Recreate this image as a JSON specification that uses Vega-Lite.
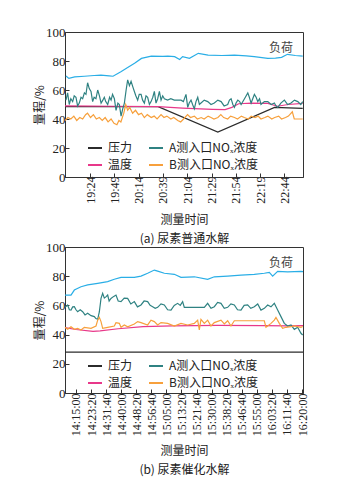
{
"$schema": "https://vega.github.io/schema/vega-lite/v6.json",
"background": "white",
"padding": {"left": 32, "top": 25, "right": 5, "bottom": 5},
"bounds": "flush",
"spacing": 70,
"config": {
  "view": {"stroke": "#333", "strokeWidth": 1},
  "axis": {"grid": false, "domainColor": "#333", "tickColor": "#333", "labelColor": "#222", "labelFont": "Liberation Serif, Times New Roman, serif", "labelFontSize": 13, "labelOverlap": false, "labelBound": false, "labelFlush": false, "titleFont": "Noto Sans CJK SC", "titleFontSize": 12, "titleFontWeight": "normal", "titleColor": "#222", "tickSize": -4, "labelPadding": 4, "tickCount": 30},
  "legend": {"symbolType": "stroke", "symbolSize": 196, "symbolStrokeWidth": 2, "labelFont": "Noto Sans CJK SC", "labelFontSize": 12, "labelColor": "#222", "columnPadding": 12, "rowPadding": 3, "labelOffset": 5}
},
"datasets": {
"a": [
{"s":"负荷","t":1139,"v":69.7},{"s":"负荷","t":1142,"v":68},{"s":"负荷","t":1148,"v":69},{"s":"负荷","t":1158,"v":69.5},{"s":"负荷","t":1168,"v":70},{"s":"负荷","t":1175,"v":70.3},{"s":"负荷","t":1183.5,"v":69.8},{"s":"负荷","t":1187.5,"v":69.5},{"s":"负荷","t":1195.6,"v":72.6},{"s":"负荷","t":1202.6,"v":75.5},{"s":"负荷","t":1209.7,"v":78.4},{"s":"负荷","t":1216.8,"v":81.8},{"s":"负荷","t":1226.9,"v":83.4},{"s":"负荷","t":1239,"v":83.2},{"s":"负荷","t":1244,"v":83.4},{"s":"负荷","t":1251,"v":83},{"s":"负荷","t":1256.2,"v":81.1},{"s":"负荷","t":1259.2,"v":83},{"s":"负荷","t":1266.3,"v":81.8},{"s":"负荷","t":1275.4,"v":85.3},{"s":"负荷","t":1285.5,"v":84},{"s":"负荷","t":1299.6,"v":83.8},{"s":"负荷","t":1312.7,"v":84},{"s":"负荷","t":1324.9,"v":83.6},{"s":"负荷","t":1333,"v":83},{"s":"负荷","t":1347,"v":81.8},{"s":"负荷","t":1355,"v":82},{"s":"负荷","t":1361.2,"v":82.5},{"s":"负荷","t":1367.3,"v":84.6},{"s":"负荷","t":1375.4,"v":83.8},{"s":"负荷","t":1383,"v":83.4},
{"s":"压力","t":1138,"v":48.5},{"s":"压力","t":1234,"v":48.5},{"s":"压力","t":1295.5,"v":31},{"s":"压力","t":1354,"v":48},{"s":"压力","t":1383,"v":47.3},
{"s":"温度","t":1138,"v":49},{"s":"温度","t":1188,"v":48.8},{"s":"温度","t":1234,"v":48.5},{"s":"温度","t":1259,"v":47.5},{"s":"温度","t":1290,"v":46.7},{"s":"温度","t":1303,"v":46.5},{"s":"温度","t":1310,"v":48},{"s":"温度","t":1317,"v":50.5},{"s":"温度","t":1330,"v":51},{"s":"温度","t":1347,"v":50.8},{"s":"温度","t":1357,"v":48.8},{"s":"温度","t":1368,"v":50},{"s":"温度","t":1383,"v":50.8},
{"s":"A测入口NOₓ浓度","t":1139,"v":53},{"s":"A测入口NOₓ浓度","t":1140.7,"v":58},{"s":"A测入口NOₓ浓度","t":1142.4,"v":50},{"s":"A测入口NOₓ浓度","t":1144,"v":54},{"s":"A测入口NOₓ浓度","t":1145.9,"v":52},{"s":"A测入口NOₓ浓度","t":1147.5,"v":56},{"s":"A测入口NOₓ浓度","t":1149.3,"v":55},{"s":"A测入口NOₓ浓度","t":1151,"v":49},{"s":"A测入口NOₓ浓度","t":1152.7,"v":51},{"s":"A测入口NOₓ浓度","t":1154.5,"v":55},{"s":"A测入口NOₓ浓度","t":1156.2,"v":54},{"s":"A测入口NOₓ浓度","t":1158,"v":58},{"s":"A测入口NOₓ浓度","t":1159.6,"v":57},{"s":"A测入口NOₓ浓度","t":1161.3,"v":65},{"s":"A测入口NOₓ浓度","t":1163,"v":61},{"s":"A测入口NOₓ浓度","t":1164.8,"v":59},{"s":"A测入口NOₓ浓度","t":1166.5,"v":52},{"s":"A测入口NOₓ浓度","t":1168,"v":55},{"s":"A测入口NOₓ浓度","t":1169.9,"v":54},{"s":"A测入口NOₓ浓度","t":1171.7,"v":60},{"s":"A测入口NOₓ浓度","t":1173.5,"v":56},{"s":"A测入口NOₓ浓度","t":1175.2,"v":51},{"s":"A测入口NOₓ浓度","t":1177,"v":53},{"s":"A测入口NOₓ浓度","t":1178.5,"v":55},{"s":"A测入口NOₓ浓度","t":1180,"v":52},{"s":"A测入口NOₓ浓度","t":1182,"v":50},{"s":"A测入口NOₓ浓度","t":1184,"v":55},{"s":"A测入口NOₓ浓度","t":1185.5,"v":53},{"s":"A测入口NOₓ浓度","t":1187,"v":57},{"s":"A测入口NOₓ浓度","t":1188.9,"v":54},{"s":"A测入口NOₓ浓度","t":1190.6,"v":46},{"s":"A测入口NOₓ浓度","t":1192.5,"v":51},{"s":"A测入口NOₓ浓度","t":1194,"v":50},{"s":"A测入口NOₓ浓度","t":1195.8,"v":42},{"s":"A测入口NOₓ浓度","t":1197.5,"v":47},{"s":"A测入口NOₓ浓度","t":1199.2,"v":51},{"s":"A测入口NOₓ浓度","t":1201,"v":60},{"s":"A测入口NOₓ浓度","t":1202.6,"v":67},{"s":"A测入口NOₓ浓度","t":1204.4,"v":63},{"s":"A测入口NOₓ浓度","t":1206.1,"v":66},{"s":"A测入口NOₓ浓度","t":1208,"v":62},{"s":"A测入口NOₓ浓度","t":1209.5,"v":59},{"s":"A测入口NOₓ浓度","t":1211,"v":56},{"s":"A测入口NOₓ浓度","t":1212.9,"v":53},{"s":"A测入口NOₓ浓度","t":1214.5,"v":57},{"s":"A测入口NOₓ浓度","t":1216.4,"v":57},{"s":"A测入口NOₓ浓度","t":1218,"v":53},{"s":"A测入口NOₓ浓度","t":1219.8,"v":51},{"s":"A测入口NOₓ浓度","t":1221.5,"v":56},{"s":"A测入口NOₓ浓度","t":1223.2,"v":55},{"s":"A测入口NOₓ浓度","t":1225,"v":50},{"s":"A测入口NOₓ浓度","t":1226.7,"v":52},{"s":"A测入口NOₓ浓度","t":1228.5,"v":55},{"s":"A测入口NOₓ浓度","t":1230.1,"v":59},{"s":"A测入口NOₓ浓度","t":1231.8,"v":51},{"s":"A测入口NOₓ浓度","t":1233.5,"v":54},{"s":"A测入口NOₓ浓度","t":1235.3,"v":59},{"s":"A测入口NOₓ浓度","t":1237,"v":53},{"s":"A测入口NOₓ浓度","t":1238.7,"v":56},{"s":"A测入口NOₓ浓度","t":1240.4,"v":54},{"s":"A测入口NOₓ浓度","t":1243.8,"v":53},{"s":"A测入口NOₓ浓度","t":1247,"v":54},{"s":"A测入口NOₓ浓度","t":1250.7,"v":53},{"s":"A测入口NOₓ浓度","t":1254,"v":53},{"s":"A测入口NOₓ浓度","t":1257.6,"v":53},{"s":"A测入口NOₓ浓度","t":1260,"v":52},{"s":"A测入口NOₓ浓度","t":1262.7,"v":57},{"s":"A测入口NOₓ浓度","t":1264.5,"v":48},{"s":"A测入口NOₓ浓度","t":1266,"v":51},{"s":"A测入口NOₓ浓度","t":1267.9,"v":53},{"s":"A测入口NOₓ浓度","t":1269.5,"v":50},{"s":"A测入口NOₓ浓度","t":1271.3,"v":47},{"s":"A测入口NOₓ浓度","t":1273,"v":52},{"s":"A测入口NOₓ浓度","t":1274.8,"v":55},{"s":"A测入口NOₓ浓度","t":1276.5,"v":50},{"s":"A测入口NOₓ浓度","t":1278.2,"v":51},{"s":"A测入口NOₓ浓度","t":1281.5,"v":53},{"s":"A测入口NOₓ浓度","t":1285.1,"v":52},{"s":"A测入口NOₓ浓度","t":1288.5,"v":50},{"s":"A测入口NOₓ浓度","t":1291.9,"v":51},{"s":"A测入口NOₓ浓度","t":1295.5,"v":53},{"s":"A测入口NOₓ浓度","t":1298.9,"v":52},{"s":"A测入口NOₓ浓度","t":1302,"v":49},{"s":"A测入口NOₓ浓度","t":1305.7,"v":50},{"s":"A测入口NOₓ浓度","t":1307.5,"v":53},{"s":"A测入口NOₓ浓度","t":1309.2,"v":54},{"s":"A测入口NOₓ浓度","t":1311,"v":50},{"s":"A测入口NOₓ浓度","t":1312.6,"v":48},{"s":"A测入口NOₓ浓度","t":1314.3,"v":51},{"s":"A测入口NOₓ浓度","t":1316.1,"v":53},{"s":"A测入口NOₓ浓度","t":1318,"v":52},{"s":"A测入口NOₓ浓度","t":1319.5,"v":50},{"s":"A测入口NOₓ浓度","t":1323,"v":54},{"s":"A测入口NOₓ浓度","t":1326.4,"v":58},{"s":"A测入口NOₓ浓度","t":1328,"v":55},{"s":"A测入口NOₓ浓度","t":1329.8,"v":51},{"s":"A测入口NOₓ浓度","t":1331.5,"v":54},{"s":"A测入口NOₓ浓度","t":1333.2,"v":57},{"s":"A测入口NOₓ浓度","t":1335,"v":55},{"s":"A测入口NOₓ浓度","t":1336.7,"v":52},{"s":"A测入口NOₓ浓度","t":1338.5,"v":54},{"s":"A测入口NOₓ浓度","t":1340,"v":50},{"s":"A测入口NOₓ浓度","t":1343.5,"v":52},{"s":"A测入口NOₓ浓度","t":1347,"v":52},{"s":"A测入口NOₓ浓度","t":1350.5,"v":50},{"s":"A测入口NOₓ浓度","t":1353.8,"v":51},{"s":"A测入口NOₓ浓度","t":1355.5,"v":49},{"s":"A测入口NOₓ浓度","t":1357.3,"v":48},{"s":"A测入口NOₓ浓度","t":1360.5,"v":51},{"s":"A测入口NOₓ浓度","t":1364.1,"v":53},{"s":"A测入口NOₓ浓度","t":1367.5,"v":50},{"s":"A测入口NOₓ浓度","t":1371,"v":51},{"s":"A测入口NOₓ浓度","t":1374.5,"v":53},{"s":"A测入口NOₓ浓度","t":1377.9,"v":52},{"s":"A测入口NOₓ浓度","t":1381,"v":50},{"s":"A测入口NOₓ浓度","t":1383,"v":52},
{"s":"B测入口NOₓ浓度","t":1138,"v":39},{"s":"B测入口NOₓ浓度","t":1141,"v":41},{"s":"B测入口NOₓ浓度","t":1144,"v":40},{"s":"B测入口NOₓ浓度","t":1147.1,"v":42},{"s":"B测入口NOₓ浓度","t":1150.1,"v":39},{"s":"B测入口NOₓ浓度","t":1153.2,"v":41},{"s":"B测入口NOₓ浓度","t":1156.2,"v":40},{"s":"B测入口NOₓ浓度","t":1159.2,"v":43},{"s":"B测入口NOₓ浓度","t":1161.2,"v":44},{"s":"B测入口NOₓ浓度","t":1164.3,"v":41},{"s":"B测入口NOₓ浓度","t":1167.3,"v":43},{"s":"B测入口NOₓ浓度","t":1170.3,"v":40},{"s":"B测入口NOₓ浓度","t":1173.4,"v":41},{"s":"B测入口NOₓ浓度","t":1176.4,"v":39},{"s":"B测入口NOₓ浓度","t":1179.4,"v":41},{"s":"B测入口NOₓ浓度","t":1182.4,"v":38},{"s":"B测入口NOₓ浓度","t":1185.5,"v":40},{"s":"B测入口NOₓ浓度","t":1188.5,"v":37},{"s":"B测入口NOₓ浓度","t":1191.5,"v":36},{"s":"B测入口NOₓ浓度","t":1193.6,"v":39},{"s":"B测入口NOₓ浓度","t":1195.6,"v":38},{"s":"B测入口NOₓ浓度","t":1198.6,"v":44},{"s":"B测入口NOₓ浓度","t":1200.6,"v":50},{"s":"B测入口NOₓ浓度","t":1202.6,"v":46},{"s":"B测入口NOₓ浓度","t":1204.7,"v":48},{"s":"B测入口NOₓ浓度","t":1207.7,"v":44},{"s":"B测入口NOₓ浓度","t":1210.7,"v":46},{"s":"B测入口NOₓ浓度","t":1213.8,"v":43},{"s":"B测入口NOₓ浓度","t":1216.8,"v":44},{"s":"B测入口NOₓ浓度","t":1219.8,"v":41},{"s":"B测入口NOₓ浓度","t":1222.8,"v":43},{"s":"B测入口NOₓ浓度","t":1226.9,"v":41},{"s":"B测入口NOₓ浓度","t":1229.9,"v":42},{"s":"B测入口NOₓ浓度","t":1232.9,"v":40},{"s":"B测入口NOₓ浓度","t":1237,"v":43},{"s":"B测入口NOₓ浓度","t":1240,"v":41},{"s":"B测入口NOₓ浓度","t":1243,"v":42},{"s":"B测入口NOₓ浓度","t":1247.1,"v":40},{"s":"B测入口NOₓ浓度","t":1250.1,"v":41},{"s":"B测入口NOₓ浓度","t":1254.2,"v":39},{"s":"B测入口NOₓ浓度","t":1257.2,"v":38},{"s":"B测入口NOₓ浓度","t":1260.2,"v":40},{"s":"B测入口NOₓ浓度","t":1264.3,"v":43},{"s":"B测入口NOₓ浓度","t":1267.3,"v":41},{"s":"B测入口NOₓ浓度","t":1271.3,"v":42},{"s":"B测入口NOₓ浓度","t":1274.4,"v":40},{"s":"B测入口NOₓ浓度","t":1278.4,"v":41},{"s":"B测入口NOₓ浓度","t":1281.4,"v":40},{"s":"B测入口NOₓ浓度","t":1285.5,"v":42},{"s":"B测入口NOₓ浓度","t":1288.5,"v":41},{"s":"B测入口NOₓ浓度","t":1291.5,"v":40},{"s":"B测入口NOₓ浓度","t":1295.6,"v":41},{"s":"B测入口NOₓ浓度","t":1298.6,"v":43},{"s":"B测入口NOₓ浓度","t":1301.6,"v":41},{"s":"B测入口NOₓ浓度","t":1305.7,"v":40},{"s":"B测入口NOₓ浓度","t":1308.7,"v":42},{"s":"B测入口NOₓ浓度","t":1312.7,"v":41},{"s":"B测入口NOₓ浓度","t":1315.8,"v":40},{"s":"B测入口NOₓ浓度","t":1319.8,"v":42},{"s":"B测入口NOₓ浓度","t":1322.8,"v":41},{"s":"B测入口NOₓ浓度","t":1326.9,"v":40},{"s":"B测入口NOₓ浓度","t":1329.9,"v":42},{"s":"B测入口NOₓ浓度","t":1333.9,"v":41},{"s":"B测入口NOₓ浓度","t":1337,"v":42},{"s":"B测入口NOₓ浓度","t":1340,"v":40},{"s":"B测入口NOₓ浓度","t":1344,"v":41},{"s":"B测入口NOₓ浓度","t":1347.1,"v":42},{"s":"B测入口NOₓ浓度","t":1351.1,"v":40},{"s":"B测入口NOₓ浓度","t":1354.1,"v":41},{"s":"B测入口NOₓ浓度","t":1358.2,"v":42},{"s":"B测入口NOₓ浓度","t":1361.2,"v":40},{"s":"B测入口NOₓ浓度","t":1365.3,"v":41},{"s":"B测入口NOₓ浓度","t":1368.3,"v":42},{"s":"B测入口NOₓ浓度","t":1372.3,"v":45},{"s":"B测入口NOₓ浓度","t":1374.3,"v":40},{"s":"B测入口NOₓ浓度","t":1378.4,"v":40},{"s":"B测入口NOₓ浓度","t":1383,"v":40}
],
"b": [
{"s":"负荷","t":50935,"v":67.1},{"s":"负荷","t":51134,"v":67},{"s":"负荷","t":51245,"v":70.5},{"s":"负荷","t":51466,"v":72.8},{"s":"负荷","t":51687,"v":74},{"s":"负荷","t":52019,"v":75.1},{"s":"负荷","t":52351,"v":76.3},{"s":"负荷","t":52572,"v":77.9},{"s":"负荷","t":52793,"v":79.2},{"s":"负荷","t":53236,"v":79.2},{"s":"负荷","t":53457,"v":80.1},{"s":"负荷","t":53678,"v":82},{"s":"负荷","t":53899,"v":84.2},{"s":"负荷","t":54010,"v":83.5},{"s":"负荷","t":54231,"v":82},{"s":"负荷","t":54563,"v":81.3},{"s":"负荷","t":54784,"v":79.2},{"s":"负荷","t":55226,"v":79.6},{"s":"负荷","t":55669,"v":77.9},{"s":"负荷","t":55890,"v":79.6},{"s":"负荷","t":56333,"v":80.1},{"s":"负荷","t":56775,"v":80.8},{"s":"负荷","t":57217,"v":81.2},{"s":"负荷","t":57549,"v":82},{"s":"负荷","t":57715,"v":82.6},{"s":"负荷","t":57826,"v":80},{"s":"负荷","t":57992,"v":83.3},{"s":"负荷","t":58324,"v":82.9},{"s":"负荷","t":58766,"v":83.3},{"s":"负荷","t":58833,"v":83.2},
{"s":"压力","t":50935,"v":28},{"s":"压力","t":58833,"v":28},
{"s":"温度","t":50935,"v":44.8},{"s":"温度","t":51300,"v":43.5},{"s":"温度","t":51864,"v":42.2},{"s":"温度","t":52100,"v":42.5},{"s":"温度","t":52700,"v":44},{"s":"温度","t":53523,"v":45.4},{"s":"温度","t":54500,"v":46},{"s":"温度","t":56000,"v":46.3},{"s":"温度","t":57500,"v":46.2},{"s":"温度","t":58300,"v":46},{"s":"温度","t":58833,"v":46.2},
{"s":"A测入口NOₓ浓度","t":50935,"v":58.7},{"s":"A测入口NOₓ浓度","t":51023,"v":60.3},{"s":"A测入口NOₓ浓度","t":51080,"v":57},{"s":"A测入口NOₓ浓度","t":51134,"v":56.8},{"s":"A测入口NOₓ浓度","t":51190,"v":59},{"s":"A测入口NOₓ浓度","t":51245,"v":59.1},{"s":"A测入口NOₓ浓度","t":51300,"v":57},{"s":"A测入口NOₓ浓度","t":51355,"v":55.7},{"s":"A测入口NOₓ浓度","t":51440,"v":57},{"s":"A测入口NOₓ浓度","t":51521,"v":55.7},{"s":"A测入口NOₓ浓度","t":51600,"v":53.5},{"s":"A测入口NOₓ浓度","t":51687,"v":54.6},{"s":"A测入口NOₓ浓度","t":51800,"v":53},{"s":"A测入口NOₓ浓度","t":51908,"v":52.3},{"s":"A测入口NOₓ浓度","t":51960,"v":51},{"s":"A测入口NOₓ浓度","t":52019,"v":50.5},{"s":"A测入口NOₓ浓度","t":52074,"v":55.5},{"s":"A测入口NOₓ浓度","t":52130,"v":64.8},{"s":"A测入口NOₓ浓度","t":52185,"v":68.3},{"s":"A测入口NOₓ浓度","t":52240,"v":65},{"s":"A测入口NOₓ浓度","t":52300,"v":66},{"s":"A测入口NOₓ浓度","t":52351,"v":67.1},{"s":"A测入口NOₓ浓度","t":52400,"v":63},{"s":"A测入口NOₓ浓度","t":52461,"v":64.8},{"s":"A测入口NOₓ浓度","t":52540,"v":66},{"s":"A测入口NOₓ浓度","t":52627,"v":67.1},{"s":"A测入口NOₓ浓度","t":52700,"v":63},{"s":"A测入口NOₓ浓度","t":52793,"v":62.6},{"s":"A测入口NOₓ浓度","t":52900,"v":65},{"s":"A测入口NOₓ浓度","t":53014,"v":64.8},{"s":"A测入口NOₓ浓度","t":53120,"v":61},{"s":"A测入口NOₓ浓度","t":53236,"v":62.6},{"s":"A测入口NOₓ浓度","t":53340,"v":59},{"s":"A测入口NOₓ浓度","t":53457,"v":60.3},{"s":"A测入口NOₓ浓度","t":53560,"v":63},{"s":"A测入口NOₓ浓度","t":53678,"v":62.6},{"s":"A测入口NOₓ浓度","t":53760,"v":60},{"s":"A测入口NOₓ浓度","t":53844,"v":59.1},{"s":"A测入口NOₓ浓度","t":53930,"v":58},{"s":"A测入口NOₓ浓度","t":54010,"v":58.7},{"s":"A测入口NOₓ浓度","t":54120,"v":61},{"s":"A测入口NOₓ浓度","t":54231,"v":60.3},{"s":"A测入口NOₓ浓度","t":54340,"v":57},{"s":"A测入口NOₓ浓度","t":54452,"v":56.8},{"s":"A测入口NOₓ浓度","t":54560,"v":60},{"s":"A测入口NOₓ浓度","t":54673,"v":61.4},{"s":"A测入口NOₓ浓度","t":54760,"v":60},{"s":"A测入口NOₓ浓度","t":54839,"v":62.6},{"s":"A测入口NOₓ浓度","t":54894,"v":58.7},{"s":"A测入口NOₓ浓度","t":55005,"v":58.7},{"s":"A测入口NOₓ浓度","t":55447,"v":58.7},{"s":"A测入口NOₓ浓度","t":55558,"v":58.7},{"s":"A测入口NOₓ浓度","t":55669,"v":61.4},{"s":"A测入口NOₓ浓度","t":55780,"v":58},{"s":"A测入口NOₓ浓度","t":55890,"v":59.1},{"s":"A测入口NOₓ浓度","t":56000,"v":62},{"s":"A测入口NOₓ浓度","t":56111,"v":61.4},{"s":"A测入口NOₓ浓度","t":56220,"v":58},{"s":"A测入口NOₓ浓度","t":56333,"v":58.7},{"s":"A测入口NOₓ浓度","t":56440,"v":61},{"s":"A测入口NOₓ浓度","t":56554,"v":60.3},{"s":"A测入口NOₓ浓度","t":56660,"v":57},{"s":"A测入口NOₓ浓度","t":56775,"v":56.8},{"s":"A测入口NOₓ浓度","t":56880,"v":60},{"s":"A测入口NOₓ浓度","t":56996,"v":60.3},{"s":"A测入口NOₓ浓度","t":57100,"v":58},{"s":"A测入口NOₓ浓度","t":57217,"v":59.1},{"s":"A测入口NOₓ浓度","t":57330,"v":61},{"s":"A测入口NOₓ浓度","t":57438,"v":56.8},{"s":"A测入口NOₓ浓度","t":57550,"v":58},{"s":"A测入口NOₓ浓度","t":57660,"v":60.3},{"s":"A测入口NOₓ浓度","t":57770,"v":59},{"s":"A测入口NOₓ浓度","t":57881,"v":61.4},{"s":"A测入口NOₓ浓度","t":57992,"v":56.8},{"s":"A测入口NOₓ浓度","t":58102,"v":52.3},{"s":"A测入口NOₓ浓度","t":58213,"v":47.7},{"s":"A测入口NOₓ浓度","t":58324,"v":45.9},{"s":"A测入口NOₓ浓度","t":58434,"v":46.6},{"s":"A测入口NOₓ浓度","t":58545,"v":43.6},{"s":"A测入口NOₓ浓度","t":58656,"v":45},{"s":"A测入口NOₓ浓度","t":58766,"v":40.9},{"s":"A测入口NOₓ浓度","t":58822,"v":39.7},
{"s":"B测入口NOₓ浓度","t":50935,"v":45},{"s":"B测入口NOₓ浓度","t":51023,"v":43.6},{"s":"B测入口NOₓ浓度","t":51134,"v":45.4},{"s":"B测入口NOₓ浓度","t":51245,"v":43.6},{"s":"B测入口NOₓ浓度","t":51355,"v":44.3},{"s":"B测入口NOₓ浓度","t":51466,"v":43.2},{"s":"B测入口NOₓ浓度","t":51576,"v":45},{"s":"B测入口NOₓ浓度","t":51798,"v":44.3},{"s":"B测入口NOₓ浓度","t":51964,"v":45.9},{"s":"B测入口NOₓ浓度","t":52019,"v":49.9},{"s":"B测入口NOₓ浓度","t":52074,"v":51.8},{"s":"B测入口NOₓ浓度","t":52130,"v":48.9},{"s":"B测入口NOₓ浓度","t":52185,"v":44.3},{"s":"B测入口NOₓ浓度","t":52351,"v":45},{"s":"B测入口NOₓ浓度","t":52572,"v":45.9},{"s":"B测入口NOₓ浓度","t":52627,"v":48.2},{"s":"B测入口NOₓ浓度","t":52738,"v":47.7},{"s":"B测入口NOₓ浓度","t":52793,"v":45},{"s":"B测入口NOₓ浓度","t":52904,"v":46.6},{"s":"B测入口NOₓ浓度","t":53014,"v":45.4},{"s":"B测入口NOₓ浓度","t":53236,"v":47.3},{"s":"B测入口NOₓ浓度","t":53346,"v":48.9},{"s":"B测入口NOₓ浓度","t":53457,"v":48.2},{"s":"B测入口NOₓ浓度","t":53678,"v":46.6},{"s":"B测入口NOₓ浓度","t":53788,"v":49.9},{"s":"B测入口NOₓ浓度","t":53899,"v":48.9},{"s":"B测入口NOₓ浓度","t":54010,"v":46.6},{"s":"B测入口NOₓ浓度","t":54120,"v":48.2},{"s":"B测入口NOₓ浓度","t":54341,"v":47.7},{"s":"B测入口NOₓ浓度","t":54563,"v":45.9},{"s":"B测入口NOₓ浓度","t":54784,"v":47.7},{"s":"B测入口NOₓ浓度","t":55005,"v":46.6},{"s":"B测入口NOₓ浓度","t":55226,"v":47.7},{"s":"B测入口NOₓ浓度","t":55337,"v":49.9},{"s":"B测入口NOₓ浓度","t":55392,"v":43.2},{"s":"B测入口NOₓ浓度","t":55447,"v":50.4},{"s":"B测入口NOₓ浓度","t":55558,"v":47.7},{"s":"B测入口NOₓ浓度","t":55669,"v":49.9},{"s":"B测入口NOₓ浓度","t":55779,"v":45.9},{"s":"B测入口NOₓ浓度","t":55890,"v":48.2},{"s":"B测入口NOₓ浓度","t":56111,"v":49.9},{"s":"B测入口NOₓ浓度","t":56222,"v":47.3},{"s":"B测入口NOₓ浓度","t":56333,"v":49.5},{"s":"B测入口NOₓ浓度","t":56443,"v":45.9},{"s":"B测入口NOₓ浓度","t":56554,"v":49.5},{"s":"B测入口NOₓ浓度","t":57549,"v":49.5},{"s":"B测入口NOₓ浓度","t":57604,"v":45},{"s":"B测入口NOₓ浓度","t":57660,"v":45.9},{"s":"B测入口NOₓ浓度","t":57771,"v":47.7},{"s":"B测入口NOₓ浓度","t":57881,"v":49.9},{"s":"B测入口NOₓ浓度","t":57936,"v":51.8},{"s":"B测入口NOₓ浓度","t":58047,"v":47.7},{"s":"B测入口NOₓ浓度","t":58157,"v":44.3},{"s":"B测入口NOₓ浓度","t":58268,"v":45},{"s":"B测入口NOₓ浓度","t":58434,"v":45.4},{"s":"B测入口NOₓ浓度","t":58545,"v":45.9},{"s":"B测入口NOₓ浓度","t":58766,"v":45},{"s":"B测入口NOₓ浓度","t":58822,"v":45.5}
]
},
"vconcat": [
{
  "width": 238, "height": 145,
  "layer": [
    {
      "data": {"name": "a"},
      "mark": {"type": "line", "strokeWidth": 1.2},
      "encoding": {
        "x": {"field": "t", "type": "quantitative", "scale": {"domain": [1138, 1383.3], "nice": false, "zero": false},
          "axis": {"values": [1164, 1189, 1214, 1239, 1264, 1289, 1314, 1339, 1364], "tickCount": 30, "labelOverlap": false, "labelExpr": "utcFormat(datum.value*60000, '%H:%M')", "labelAngle": 270, "labelFontSize": 12, "labelPadding": 3,
            "title": ["测量时间", "(a) 尿素普通水解"], "titleY": 37, "titleBaseline": "top", "titleLineHeight": 19}},
        "y": {"field": "v", "type": "quantitative", "scale": {"domain": [0, 100], "nice": false},
          "axis": {"values": [0, 20, 40, 60, 80, 100], "tickCount": 30, "labelOverlap": false, "title": "量程/%", "titleX": -26, "titleBaseline": "middle"}},
        "color": {"field": "s", "type": "nominal",
          "scale": {"domain": ["压力", "温度", "A测入口NOₓ浓度", "B测入口NOₓ浓度", "负荷"], "range": ["#2b2b2b", "#e8388a", "#2f8282", "#f7a03c", "#2aaee6"]},
          "legend": {"values": ["压力", "温度", "A测入口NOₓ浓度", "B测入口NOₓ浓度"], "title": null, "orient": "none", "legendX": 22, "legendY": 108, "columns": 2}}
      }
    },
    {
      "data": {"values": [{"t": 1360.7, "v": 89, "label": "负荷"}]},
      "mark": {"type": "text", "font": "Noto Sans CJK SC", "fontSize": 12, "color": "#444"},
      "encoding": {"x": {"field": "t", "type": "quantitative"}, "y": {"field": "v", "type": "quantitative"}, "text": {"field": "label"}}
    }
  ]
},
{
  "width": 238, "height": 146,
  "layer": [
    {
      "data": {"name": "b"},
      "mark": {"type": "line", "strokeWidth": 1.2},
      "encoding": {
        "x": {"field": "t", "type": "quantitative", "scale": {"domain": [50935, 58833], "nice": false, "zero": false},
          "axis": {"values": [51300, 51800, 52300, 52800, 53300, 53800, 54300, 54800, 55300, 55800, 56300, 56800, 57300, 57800, 58300, 58800], "tickCount": 30, "labelOverlap": false, "labelExpr": "utcFormat(datum.value*1000, '%H:%M:%S')", "labelAngle": 270, "labelFontSize": 12, "labelPadding": 4,
            "title": ["测量时间", "(b) 尿素催化水解"], "titleY": 52, "titleBaseline": "top", "titleLineHeight": 19}},
        "y": {"field": "v", "type": "quantitative", "scale": {"domain": [0, 100], "nice": false},
          "axis": {"values": [0, 20, 40, 60, 80, 100], "tickCount": 30, "labelOverlap": false, "title": "量程/%", "titleX": -26, "titleBaseline": "middle"}},
        "color": {"field": "s", "type": "nominal",
          "scale": {"domain": ["压力", "温度", "A测入口NOₓ浓度", "B测入口NOₓ浓度", "负荷"], "range": ["#2b2b2b", "#e8388a", "#2f8282", "#f7a03c", "#2aaee6"]},
          "legend": {"values": ["压力", "温度", "A测入口NOₓ浓度", "B测入口NOₓ浓度"], "title": null, "orient": "none", "legendX": 22, "legendY": 111, "columns": 2}}
      }
    },
    {
      "data": {"values": [{"t": 58102, "v": 89, "label": "负荷"}]},
      "mark": {"type": "text", "font": "Noto Sans CJK SC", "fontSize": 12, "color": "#444"},
      "encoding": {"x": {"field": "t", "type": "quantitative"}, "y": {"field": "v", "type": "quantitative"}, "text": {"field": "label"}}
    }
  ]
}
],
"resolve": {"scale": {"color": "independent", "x": "independent", "y": "independent"}, "legend": {"color": "independent"}}
}
